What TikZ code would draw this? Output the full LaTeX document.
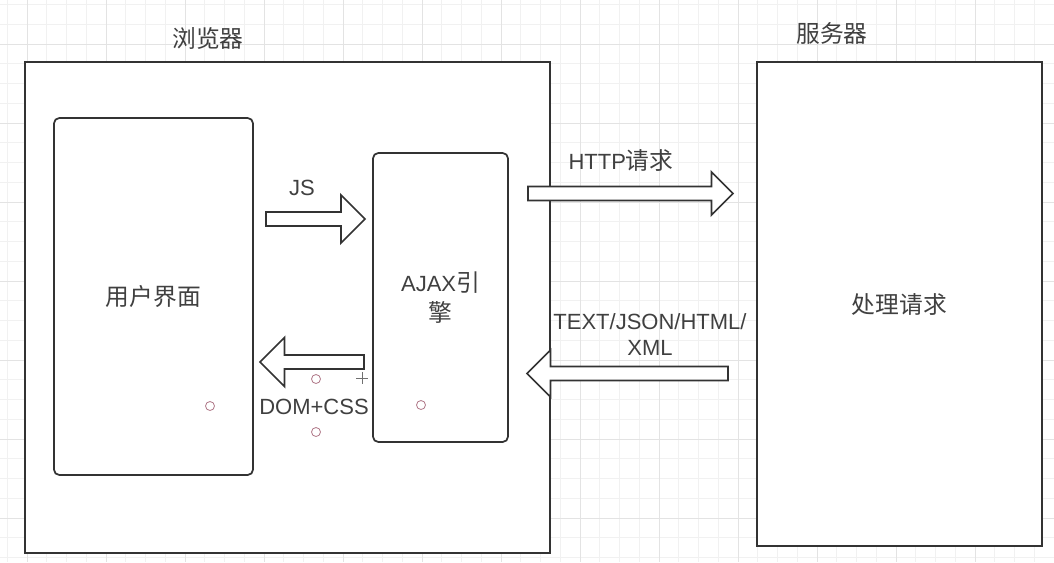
\documentclass[tikz,border=0pt]{standalone}
\usepackage{fontspec}
\setmainfont{Liberation Sans}
\newfontfamily\cjk[Scale=1.08]{Noto Sans CJK SC}
\usepackage{xcolor}
\usepackage{tikz}
\usetikzlibrary{shapes, arrows, positioning, calc}

\definecolor{linegray}{HTML}{333333}
\definecolor{textgray}{HTML}{404040}
\definecolor{gridminor}{HTML}{F1F1F1}
\definecolor{gridmajor}{HTML}{E3E3E3}
\definecolor{handle}{HTML}{B07888}
\def\px{0.75pt}

\begin{document}
\begin{tikzpicture}[
    x=0.75pt, y=-0.75pt,
    font=\fontsize{16.5}{20}\selectfont, text=textgray,
    panel/.style={rectangle, draw=linegray, line width=1.3pt, fill=white, inner sep=0pt, align=center},
    card/.style={panel, rounded corners=4pt},
    blockarrow/.style={single arrow, draw=linegray, line width=1.3pt, fill=white,
        inner xsep=0pt, inner ysep=4.6pt, outer sep=0pt, anchor=tail},
    caption/.style={inner sep=0pt, align=center},
    handlept/.style={draw=handle, line width=0.6pt},
]
\useasboundingbox (0,0) rectangle (1054,562);
\fill[white] (0,0) rectangle (1054,562);

% Grid
\foreach \i in {0,...,53}
    \draw[gridminor, line width=0.6pt] ({7.25+19.75*\i},0) -- ({7.25+19.75*\i},562);
\foreach \j in {0,...,28}
    \draw[gridminor, line width=0.6pt] (0,{4.5+19.75*\j}) -- (1054,{4.5+19.75*\j});
\foreach \i in {0,...,13}
    \draw[gridmajor, line width=0.6pt] ({27+79*\i},0) -- ({27+79*\i},562);
\foreach \j in {0,...,6}
    \draw[gridmajor, line width=0.6pt] (0,{44+79*\j}) -- (1054,{44+79*\j});

% Browser
\node (browser) [panel, minimum width=525*\px, minimum height=491*\px] at (287.5,307.5) {};
\node (browserlabel) [caption] at (208,38) {\cjk 浏览器};

% Server
\node (server) [panel, minimum width=285*\px, minimum height=484*\px] at (899.5,304) {\cjk 处理请求};
\node (serverlabel) [caption] at (832,33) {\cjk 服务器};

% User interface
\node (ui) [card, minimum width=199*\px, minimum height=357*\px] at (153.5,296.5) {\cjk 用户界面};

% AJAX engine
\node (ajax) [card, minimum width=135*\px, minimum height=289*\px, font=\fontsize{16.5}{23}\selectfont] at (440.5,297.5) {AJAX{\cjk 引}\\{\cjk 擎}};

% Arrows
\node (jsarrow) [blockarrow, minimum height=99*\px, single arrow head extend=17*\px] at (266,219) {};
\node (jslabel) [caption] at (302,188) {JS};

\node (domarrow) [blockarrow, shape border rotate=180, minimum height=104*\px, single arrow head extend=17.5*\px] at (364,362) {};
\node (domlabel) [caption] at (314,407) {DOM+CSS};

\node (httparrow) [blockarrow, minimum height=205*\px, single arrow head extend=14.5*\px] at (528,193.5) {};
\node (httplabel) [caption] at (621,160) {HTTP{\cjk 请求}};

\node (resparrow) [blockarrow, shape border rotate=180, minimum height=201*\px, single arrow head extend=16.5*\px] at (728,373.5) {};
\node (resplabel) [caption] at (650,334.5) {TEXT/JSON/HTML/\\XML};

% Handles
\foreach \p in {(210,406), (316,379), (316,432), (421,405)}
    \draw[handlept] \p circle (4.5);
\draw[linegray!70, line width=0.5pt] (356,378) -- (368,378) (362,372) -- (362,384);

\end{tikzpicture}
\end{document}
